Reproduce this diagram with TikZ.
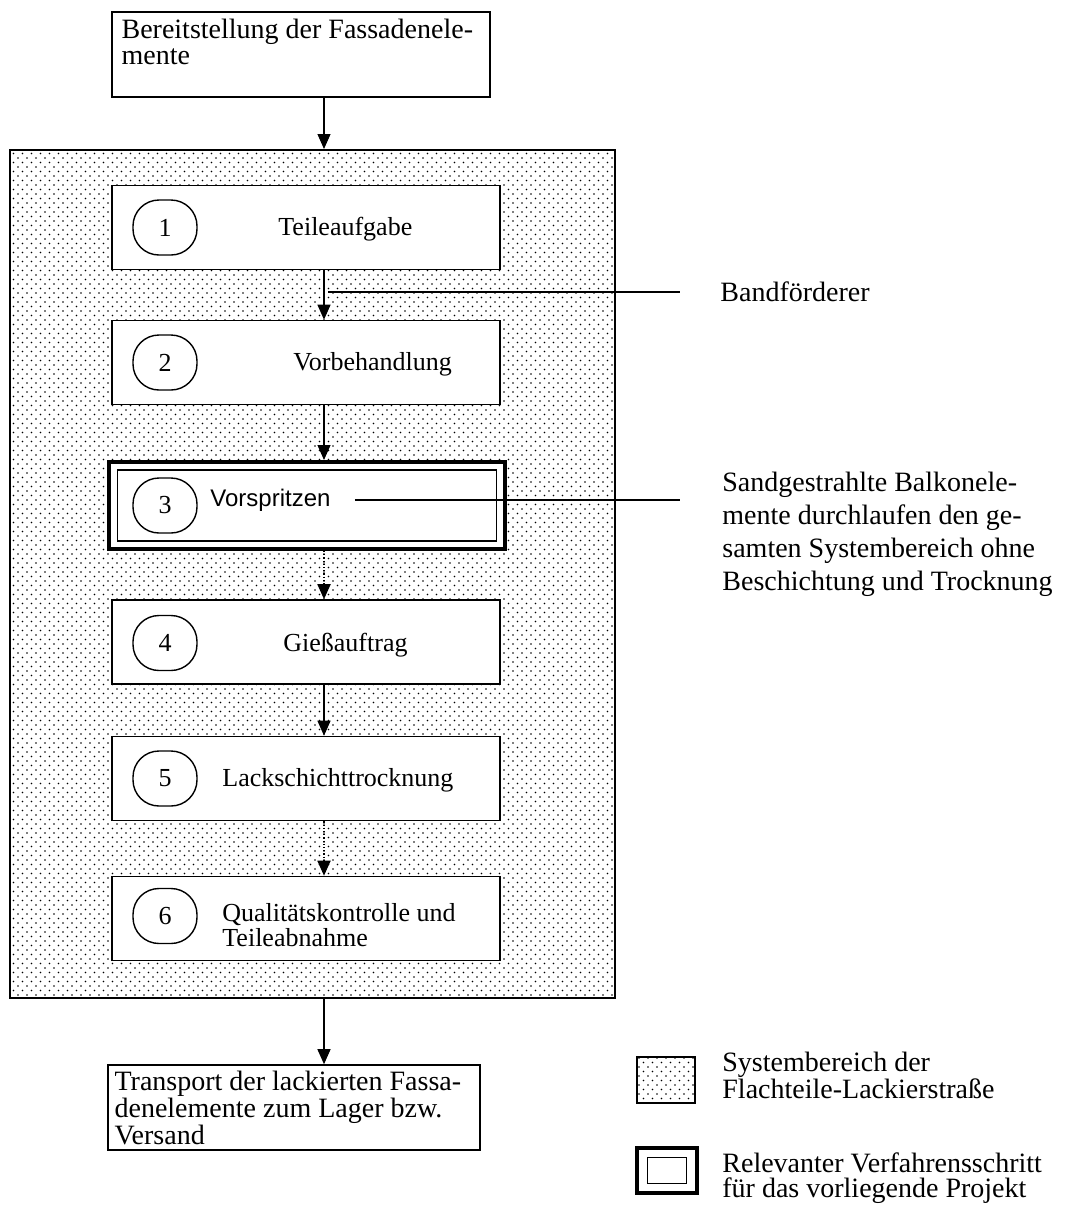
\documentclass[tikz,border=0pt]{standalone}
\usepackage{fontspec}
\setmainfont{Liberation Serif}
\setsansfont{Liberation Sans}
\usepackage{tikz}
\usetikzlibrary{arrows.meta, positioning, patterns}
\pgfdeclarepatternformonly{sysdots}{\pgfqpoint{-1pt}{-1pt}}{\pgfqpoint{5.5pt}{5.5pt}}{\pgfqpoint{4.5pt}{4.5pt}}{%
  \pgfpathcircle{\pgfqpoint{0pt}{0pt}}{.45pt}%
  \pgfpathcircle{\pgfqpoint{2.25pt}{2.25pt}}{.45pt}%
  \pgfusepath{fill}}

\begin{document}
\begin{tikzpicture}[x=0.5pt, y=-0.5pt,
  stepbox/.style={draw, line width=0.8pt, fill=white, minimum width=194pt, minimum height=42pt},
  numbox/.style={draw, line width=0.7pt, rounded corners=13pt, minimum width=32pt,
                 minimum height=27.5pt, inner sep=0pt, font=\fontsize{13pt}{15pt}\selectfont},
  steplab/.style={anchor=west, inner sep=0pt, align=left, font=\fontsize{13pt}{12.5pt}\selectfont},
  endbox/.style={draw, line width=0.8pt, fill=white, minimum height=42.5pt},
  endlab/.style={anchor=north west, inner sep=0pt, align=left, font=\fontsize{14pt}{13pt}\selectfont},
  note/.style={inner sep=0pt, align=left, font=\fontsize{14pt}{16.5pt}\selectfont},
  area/.style={draw, line width=1pt, pattern=sysdots, pattern color=black},
  arr/.style={-{Triangle[width=6.5pt,length=7.5pt]}, line width=0.6pt},
  lead/.style={line width=0.6pt}
]
  \fill[white] (0,0) rectangle (1067,1211);
  \useasboundingbox (0,0) rectangle (1067,1211);
  \coordinate (flow) at (324,0);

  % system area
  \node[area, minimum width=302.5pt, minimum height=424pt] (sys) at (312.5,574) {};

  % input / output
  \node[endbox, minimum width=189pt] (src) at (301,54.5) {};
  \node[endlab] (srctxt) at ([xshift=5pt,yshift=-3.5pt]src.north west)
    {Bereitstellung der Fassadenele-\\mente};
  \node[endbox, minimum width=186pt] (dst) at (294,1107.5) {};
  \node[endlab, font=\fontsize{14pt}{11.5pt}\selectfont] (dsttxt)
    at ([xshift=3.5pt,yshift=-3pt]dst.north west)
    {Transport der lackierten Fassa-\\denelemente zum Lager bzw.\\Versand};

  % steps
  \node[stepbox] (s1) at (306,227.5) {};
  \node[numbox] (n1) at (165,227.5) {1};
  \node[steplab] (t1) at (278,229) {Teileaufgabe};

  \node[stepbox] (s2) at (306,362.5) {};
  \node[numbox] (n2) at (165,362.5) {2};
  \node[steplab] (t2) at (293,364) {Vorbehandlung};

  \node[stepbox, line width=2pt, minimum width=198pt, minimum height=43.5pt] (s3) at (307,505.5) {};
  \node[draw, line width=0.7pt, minimum width=189.5pt, minimum height=35.5pt] (s3in) at (s3.center) {};
  \node[numbox] (n3) at (165,505.5) {3};
  \node[steplab, font=\sffamily\fontsize{12pt}{14pt}\selectfont] (t3) at (210,500) {Vorspritzen};

  \node[stepbox] (s4) at (306,642) {};
  \node[numbox] (n4) at (165,643) {4};
  \node[steplab] (t4) at (283,645) {Gießauftrag};

  \node[stepbox] (s5) at (306,778.5) {};
  \node[numbox] (n5) at (165,778.5) {5};
  \node[steplab] (t5) at (222,780) {Lackschichttrocknung};

  \node[stepbox] (s6) at (306,918.5) {};
  \node[numbox] (n6) at (165,916) {6};
  \node[steplab] (t6) at (222,925) {Qualitätskontrolle und\\Teileabnahme};

  % flow
  \draw[arr] (src.south -| flow) -- (sys.north -| flow);
  \draw[arr] (s1.south -| flow) -- (s2.north -| flow);
  \draw[arr] (s2.south -| flow) -- (s3.north -| flow);
  \draw[arr, densely dotted, line width=0.9pt] (s3.south -| flow) -- (s4.north -| flow);
  \draw[arr] (s4.south -| flow) -- (s5.north -| flow);
  \draw[arr, densely dotted, line width=0.9pt] (s5.south -| flow) -- (s6.north -| flow);
  \draw[arr] (sys.south -| flow) -- (dst.north -| flow);

  % notes
  \coordinate (bandpt) at (328,292);
  \node[note, anchor=west] (band) at (720,292) {Bandförderer};
  \draw[lead] (bandpt) -- ([xshift=-20pt]band.west);

  \coordinate (sandpt) at (680,500);
  \node[note, anchor=north west] (sand) at (722,472)
    {Sandgestrahlte Balkonele-\\mente durchlaufen den ge-\\samten Systembereich ohne\\Beschichtung und Trocknung};
  \draw[lead] ([xshift=12pt]t3.east) -- (sandpt);

  % legend
  \node[area, line width=0.6pt, minimum width=29pt, minimum height=23pt] (legsys) at (666,1080) {};
  \node[note, anchor=north west, font=\fontsize{14pt}{13.5pt}\selectfont] (legsystxt) at (722,1052)
    {Systembereich der\\Flachteile-Lackierstraße};
  \node[draw, line width=2pt, minimum width=30pt, minimum height=22.5pt] (legrel) at (667,1170.5) {};
  \node[draw, line width=0.6pt, minimum width=19.5pt, minimum height=13pt] (legrelin) at (legrel.center) {};
  \node[note, anchor=north west, font=\fontsize{14pt}{12.5pt}\selectfont] (legreltxt) at (722,1152)
    {Relevanter Verfahrensschritt\\für das vorliegende Projekt};
\end{tikzpicture}
\end{document}
